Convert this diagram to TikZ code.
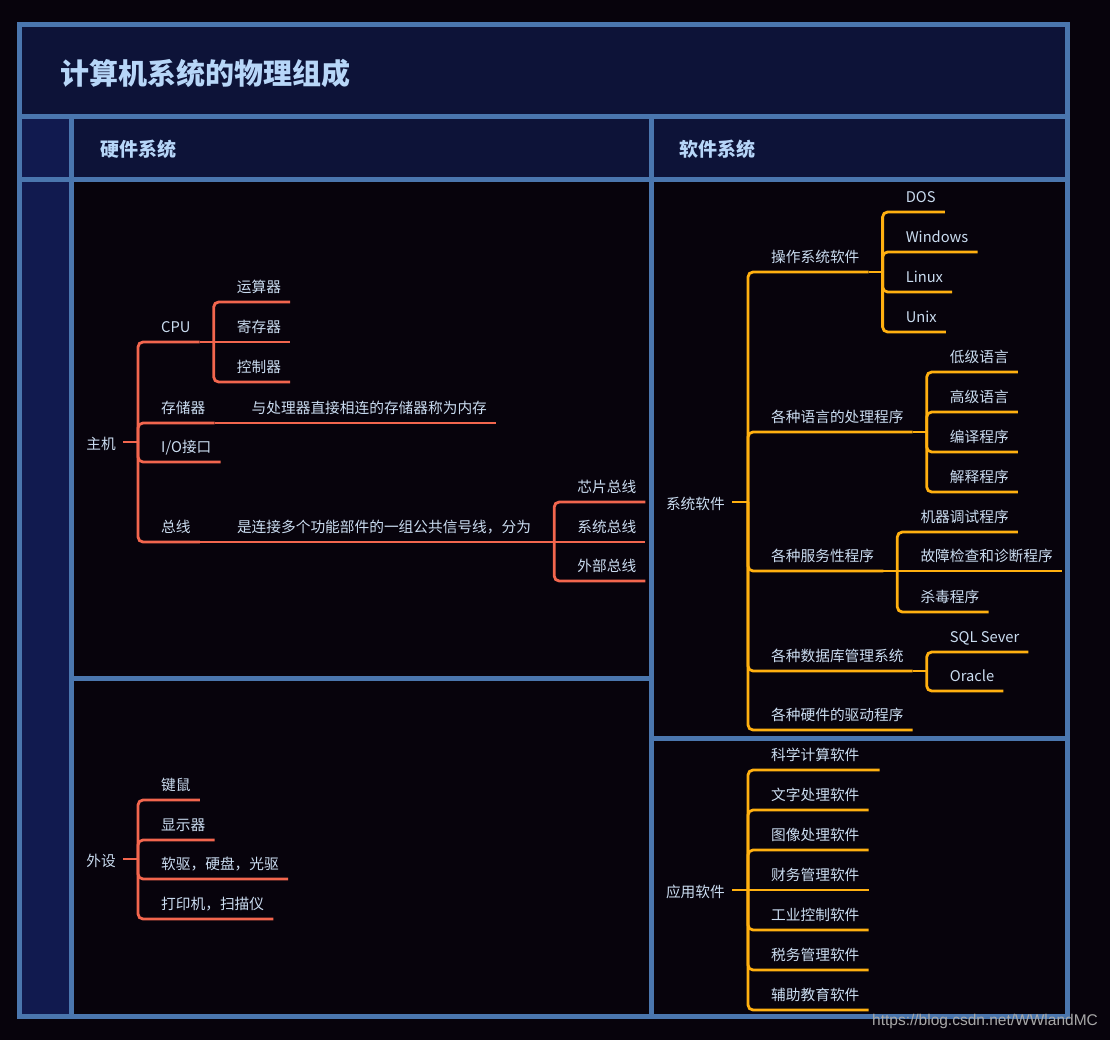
\documentclass[tikz,border=0pt]{standalone}
\usepackage{fontspec}
\setmainfont{Noto Sans CJK SC}
\newfontfamily\markfont{Liberation Sans}
\newcommand\mapfont{\fontsize{14.7pt}{17pt}\selectfont}
\definecolor{bgcol}{HTML}{07030C}
\definecolor{titlecol}{HTML}{0D1338}
\definecolor{sidecol}{HTML}{111A4F}
\definecolor{framecol}{HTML}{4A76AE}
\definecolor{headcol}{HTML}{B7D6F8}
\definecolor{txtcol}{HTML}{CADCF0}
\definecolor{hwcol}{HTML}{F2664E}
\definecolor{swcol}{HTML}{FFB010}
\definecolor{markcol}{HTML}{A8A8A8}
\begin{document}
\begin{tikzpicture}[x=1pt,y=-1pt,
    topic/.style={anchor=south west, text=txtcol, font=\mapfont, inner xsep=9pt, inner ysep=7pt,
      text height=12pt, text depth=2pt, execute at begin node={\hspace*{14pt}}},
    root/.style={anchor=east, text=txtcol, font=\mapfont, inner xsep=7pt, text height=14pt, text depth=0pt},
    hw/.style={draw=hwcol, line width=2.8pt, rounded corners=5pt},
    sw/.style={draw=swcol, line width=2.8pt, rounded corners=5pt},
    grid/.style={draw=framecol, line width=5pt}]
    \useasboundingbox (0,0) rectangle (1110,1040);
    \fill[bgcol] (0,0) rectangle (1110,1040);

    % The Frame (title, headers, columns)
    \fill[titlecol] (19,25) rectangle (1067,180);
    \fill[sidecol] (19,117) rectangle (71,1016);
    \draw[grid] (19,25) rectangle (1067,1016);
    \draw[grid] (19,117) -- (1067,117);
    \draw[grid] (19,180) -- (1067,180);
    \draw[grid] (71,117) -- (71,1016);
    \draw[grid] (651,117) -- (651,1016);
    \draw[grid] (71,678) -- (651,678);
    \draw[grid] (651,738) -- (1067,738);
    \node[anchor=west, text=headcol, font=\fontsize{29pt}{32pt}\selectfont\bfseries] (title) at (57,73) {计算机系统的物理组成};
    \node[anchor=west, text=headcol, font=\fontsize{19pt}{22pt}\selectfont\bfseries] (hwhead) at (97,149) {硬件系统};
    \node[anchor=west, text=headcol, font=\fontsize{19pt}{22pt}\selectfont\bfseries] (swhead) at (676,149) {软件系统};

    % Hardware: host
    \node[root] (zj) at (123,442) {主机};
    \coordinate (zj-j) at ([xshift=15pt]zj.east);
    \node[topic] (cpu) at (zj-j |- 0,342) {CPU};
    \node[topic] (ccq) at (zj-j |- 0,423) {存储器};
    \node[topic] (io) at (zj-j |- 0,462) {I/O接口};
    \node[topic] (zx) at (zj-j |- 0,542) {总线};
    \draw[hw] (zj.east) -- (zj-j);
    \draw[hw] (zj-j) |- (cpu.south east);
    \draw[hw] (zj-j) |- (ccq.south east);
    \draw[hw] (zj-j) |- (io.south east);
    \draw[hw] (zj-j) |- (zx.south east);

    \coordinate (cpu-j) at ([xshift=14pt]cpu.south east);
    \node[topic] (ysq) at (cpu-j |- 0,302) {运算器};
    \node[topic] (jcq) at (cpu-j) {寄存器};
    \node[topic] (kzq) at (cpu-j |- 0,382) {控制器};
    \draw[hw] (cpu.south east) -- (cpu-j);
    \draw[hw] (cpu-j) |- (ysq.south east);
    \draw[hw] (cpu-j) -- (jcq.south east);
    \draw[hw] (cpu-j) |- (kzq.south east);

    \coordinate (ccq-j) at ([xshift=14pt]ccq.south east);
    \node[topic] (nc) at (ccq-j) {与处理器直接相连的存储器称为内存};
    \draw[hw] (ccq.south east) -- (nc.south east);

    \coordinate (zx-j) at ([xshift=14pt]zx.south east);
    \node[topic] (xhx) at (zx-j) {是连接多个功能部件的一组公共信号线，分为};
    \draw[hw] (zx.south east) -- (xhx.south east);
    \coordinate (xhx-j) at ([xshift=14pt]xhx.south east);
    \node[topic] (xp) at (xhx-j |- 0,502) {芯片总线};
    \node[topic] (xt) at (xhx-j) {系统总线};
    \node[topic] (wb) at (xhx-j |- 0,581) {外部总线};
    \draw[hw] (xhx.south east) -- (xhx-j);
    \draw[hw] (xhx-j) |- (xp.south east);
    \draw[hw] (xhx-j) -- (xt.south east);
    \draw[hw] (xhx-j) |- (wb.south east);

    % Hardware: peripherals
    \node[root] (ws) at (123,859) {外设};
    \coordinate (ws-j) at ([xshift=15pt]ws.east);
    \node[topic] (js) at (ws-j |- 0,800) {键鼠};
    \node[topic] (xsq) at (ws-j |- 0,840) {显示器};
    \node[topic] (rq) at (ws-j |- 0,879) {软驱，硬盘，光驱};
    \node[topic] (dyj) at (ws-j |- 0,919) {打印机，扫描仪};
    \draw[hw] (ws.east) -- (ws-j);
    \draw[hw] (ws-j) |- (js.south east);
    \draw[hw] (ws-j) |- (xsq.south east);
    \draw[hw] (ws-j) |- (rq.south east);
    \draw[hw] (ws-j) |- (dyj.south east);

    % Software: system software
    \node[root] (xtrj) at (732,502) {系统软件};
    \coordinate (xtrj-j) at ([xshift=16pt]xtrj.east);
    \node[topic] (czxt) at (xtrj-j |- 0,272) {操作系统软件};
    \node[topic] (yycl) at (xtrj-j |- 0,432) {各种语言的处理程序};
    \node[topic] (fwcx) at (xtrj-j |- 0,571) {各种服务性程序};
    \node[topic] (sjk) at (xtrj-j |- 0,671) {各种数据库管理系统};
    \node[topic] (qdcx) at (xtrj-j |- 0,730) {各种硬件的驱动程序};
    \draw[sw] (xtrj.east) -- (xtrj-j);
    \draw[sw] (xtrj-j) |- (czxt.south east);
    \draw[sw] (xtrj-j) |- (yycl.south east);
    \draw[sw] (xtrj-j) |- (fwcx.south east);
    \draw[sw] (xtrj-j) |- (sjk.south east);
    \draw[sw] (xtrj-j) |- (qdcx.south east);

    \coordinate (czxt-j) at ([xshift=14pt]czxt.south east);
    \node[topic] (dos) at (czxt-j |- 0,212) {DOS};
    \node[topic] (win) at (czxt-j |- 0,252) {Windows};
    \node[topic] (lnx) at (czxt-j |- 0,292) {Linux};
    \node[topic] (unx) at (czxt-j |- 0,332) {Unix};
    \draw[sw] (czxt.south east) -- (czxt-j);
    \draw[sw] (czxt-j) |- (dos.south east);
    \draw[sw] (czxt-j) |- (win.south east);
    \draw[sw] (czxt-j) |- (lnx.south east);
    \draw[sw] (czxt-j) |- (unx.south east);

    \coordinate (yycl-j) at ([xshift=14pt]yycl.south east);
    \node[topic] (djyy) at (yycl-j |- 0,372) {低级语言};
    \node[topic] (gjyy) at (yycl-j |- 0,412) {高级语言};
    \node[topic] (bycx) at (yycl-j |- 0,452) {编译程序};
    \node[topic] (jscx) at (yycl-j |- 0,492) {解释程序};
    \draw[sw] (yycl.south east) -- (yycl-j);
    \draw[sw] (yycl-j) |- (djyy.south east);
    \draw[sw] (yycl-j) |- (gjyy.south east);
    \draw[sw] (yycl-j) |- (bycx.south east);
    \draw[sw] (yycl-j) |- (jscx.south east);

    \coordinate (fwcx-j) at ([xshift=14pt]fwcx.south east);
    \node[topic] (jqts) at (fwcx-j |- 0,532) {机器调试程序};
    \node[topic] (gzjc) at (fwcx-j) {故障检查和诊断程序};
    \node[topic] (sdcx) at (fwcx-j |- 0,612) {杀毒程序};
    \draw[sw] (fwcx.south east) -- (fwcx-j);
    \draw[sw] (fwcx-j) |- (jqts.south east);
    \draw[sw] (fwcx-j) -- (gzjc.south east);
    \draw[sw] (fwcx-j) |- (sdcx.south east);

    \coordinate (sjk-j) at ([xshift=14pt]sjk.south east);
    \node[topic] (sql) at (sjk-j |- 0,652) {SQL Sever};
    \node[topic] (orc) at (sjk-j |- 0,691) {Oracle};
    \draw[sw] (sjk.south east) -- (sjk-j);
    \draw[sw] (sjk-j) |- (sql.south east);
    \draw[sw] (sjk-j) |- (orc.south east);

    % Software: application software
    \node[root] (yyrj) at (732,890) {应用软件};
    \coordinate (yyrj-j) at ([xshift=16pt]yyrj.east);
    \node[topic] (kxjs) at (yyrj-j |- 0,770) {科学计算软件};
    \node[topic] (wzcl) at (yyrj-j |- 0,810) {文字处理软件};
    \node[topic] (txcl) at (yyrj-j |- 0,850) {图像处理软件};
    \node[topic] (cwgl) at (yyrj-j) {财务管理软件};
    \node[topic] (gykz) at (yyrj-j |- 0,930) {工业控制软件};
    \node[topic] (swgl) at (yyrj-j |- 0,970) {税务管理软件};
    \node[topic] (fzjy) at (yyrj-j |- 0,1010) {辅助教育软件};
    \draw[sw] (yyrj.east) -- (yyrj-j);
    \draw[sw] (yyrj-j) |- ([xshift=11pt]kxjs.south east);
    \draw[sw] (yyrj-j) |- (wzcl.south east);
    \draw[sw] (yyrj-j) |- (txcl.south east);
    \draw[sw] (yyrj-j) -- (cwgl.south east);
    \draw[sw] (yyrj-j) |- (gykz.south east);
    \draw[sw] (yyrj-j) |- (swgl.south east);
    \draw[sw] (yyrj-j) |- (fzjy.south east);

    % Watermark
    \node[text=markcol, font=\markfont\fontsize{15.5pt}{16pt}\selectfont] (mark) at (985,1021) {https://blog.csdn.net/WWlandMC};
\end{tikzpicture}
\end{document}
